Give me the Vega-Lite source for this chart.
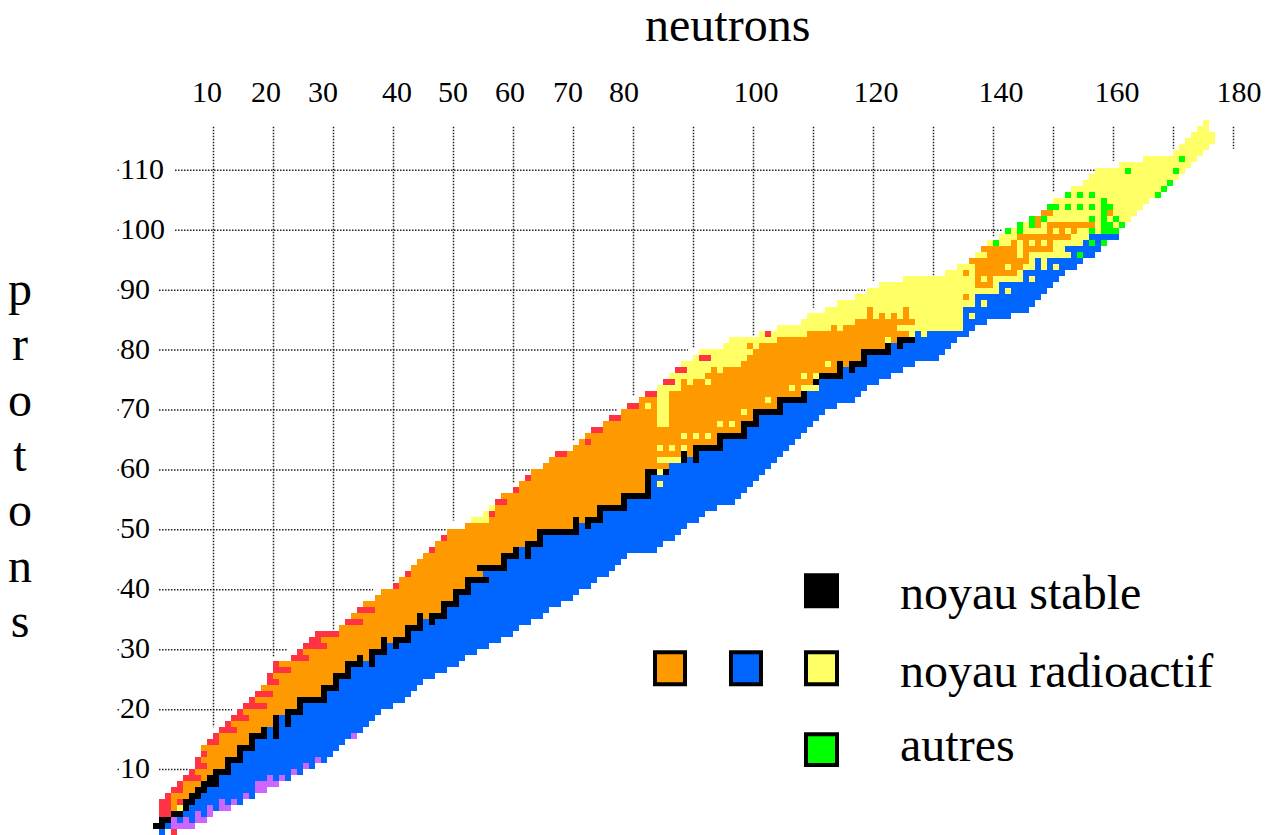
{"$schema":"https://vega.github.io/schema/vega-lite/v6.json","width":1272,"height":835,"padding":0,"autosize":{"type":"fit","contains":"padding"},"background":"white","config":{"view":{"stroke":null}},
"datasets":{
"hgrid":[{"p":10,"a":1,"b":5.83},{"p":20,"a":1,"b":13.17},{"p":30,"a":1,"b":22.5},{"p":40,"a":1,"b":36.67},{"p":50,"a":1,"b":48.83},{"p":60,"a":1,"b":62.83},{"p":70,"a":1,"b":77.33},{"p":80,"a":1,"b":89.17},{"p":90,"a":1,"b":118.67},{"p":100,"a":3.67,"b":141.67},{"p":110,"a":3.67,"b":157.83},
{"p":10,"a":-5.92,"b":-5.58},{"p":20,"a":-5.92,"b":-5.58},{"p":30,"a":-5.92,"b":-5.58},{"p":40,"a":-5.92,"b":-5.58},{"p":50,"a":-5.92,"b":-5.58},{"p":60,"a":-5.92,"b":-5.58},{"p":70,"a":-5.92,"b":-5.58},{"p":80,"a":-5.92,"b":-5.58},{"p":90,"a":-5.92,"b":-5.58},{"p":100,"a":-5.92,"b":-5.58},{"p":110,"a":-5.92,"b":-5.58}],
"vgrid":[{"n":10,"top":117.17,"e":17},{"n":20,"top":117.17,"e":28.83},{"n":30,"top":117.17,"e":33.33},{"n":40,"top":117.17,"e":41.17},{"n":50,"top":117.17,"e":51.5},{"n":60,"top":117.17,"e":57.83},{"n":70,"top":117.17,"e":64.67},{"n":80,"top":117.17,"e":72.17},{"n":90,"top":117.17,"e":80.33},{"n":100,"top":117.17,"e":82.17},{"n":110,"top":117.17,"e":87},{"n":120,"top":117.17,"e":91.5},{"n":130,"top":117.17,"e":92.17},{"n":140,"top":117.17,"e":98.83},{"n":150,"top":117.17,"e":106.17},{"n":160,"top":117.17,"e":111.5},{"n":170,"top":117.17,"e":113.5},{"n":180,"top":117.17,"e":113.5}],
"cells":[
{"p":0,"q":-1,"a":1,"b":2,"k":"B"},{"p":0,"q":-1,"a":3,"b":4,"k":"R"},
{"p":1,"q":0,"a":0,"b":2,"k":"K"},{"p":1,"q":0,"a":2,"b":3,"k":"B"},{"p":1,"q":0,"a":3,"b":7,"k":"P"},
{"p":2,"q":1,"a":1,"b":3,"k":"K"},{"p":2,"q":1,"a":3,"b":9,"k":"P"},{"p":2,"q":1,"a":4,"b":5,"k":"B"},{"p":2,"q":1,"a":6,"b":7,"k":"B"},
{"p":3,"q":2,"a":1,"b":3,"k":"R"},{"p":3,"q":2,"a":3,"b":5,"k":"K"},{"p":3,"q":2,"a":5,"b":7,"k":"B"},{"p":3,"q":2,"a":7,"b":8,"k":"P"},{"p":3,"q":2,"a":8,"b":9,"k":"B"},{"p":3,"q":2,"a":9,"b":10,"k":"P"},
{"p":4,"q":3,"a":1,"b":3,"k":"R"},{"p":4,"q":3,"a":3,"b":4,"k":"O"},{"p":4,"q":3,"a":4,"b":5,"k":"Y"},{"p":4,"q":3,"a":5,"b":6,"k":"K"},{"p":4,"q":3,"a":6,"b":9,"k":"B"},{"p":4,"q":3,"a":9,"b":10,"k":"P"},{"p":4,"q":3,"a":10,"b":11,"k":"B"},{"p":4,"q":3,"a":11,"b":13,"k":"P"},
{"p":5,"q":4,"a":1,"b":3,"k":"R"},{"p":5,"q":4,"a":3,"b":4,"k":"O"},{"p":5,"q":4,"a":4,"b":5,"k":"R"},{"p":5,"q":4,"a":5,"b":7,"k":"K"},{"p":5,"q":4,"a":7,"b":15,"k":"B"},{"p":5,"q":4,"a":11,"b":12,"k":"P"},{"p":5,"q":4,"a":13,"b":14,"k":"P"},
{"p":6,"q":5,"a":2,"b":3,"k":"R"},{"p":6,"q":5,"a":3,"b":6,"k":"O"},{"p":6,"q":5,"a":6,"b":8,"k":"K"},{"p":6,"q":5,"a":8,"b":17,"k":"B"},{"p":6,"q":5,"a":15,"b":16,"k":"P"},
{"p":7,"q":6,"a":3,"b":5,"k":"R"},{"p":7,"q":6,"a":5,"b":7,"k":"O"},{"p":7,"q":6,"a":7,"b":9,"k":"K"},{"p":7,"q":6,"a":9,"b":17,"k":"B"},{"p":7,"q":6,"a":17,"b":19,"k":"P"},
{"p":8,"q":7,"a":4,"b":5,"k":"R"},{"p":8,"q":7,"a":5,"b":8,"k":"O"},{"p":8,"q":7,"a":8,"b":11,"k":"K"},{"p":8,"q":7,"a":11,"b":17,"k":"B"},{"p":8,"q":7,"a":17,"b":21,"k":"P"},
{"p":9,"q":8,"a":5,"b":8,"k":"R"},{"p":9,"q":8,"a":8,"b":9,"k":"O"},{"p":9,"q":8,"a":9,"b":11,"k":"K"},{"p":9,"q":8,"a":11,"b":23,"k":"B"},{"p":9,"q":8,"a":19,"b":20,"k":"P"},{"p":9,"q":8,"a":21,"b":22,"k":"P"},
{"p":10,"q":9,"a":6,"b":7,"k":"R"},{"p":10,"q":9,"a":7,"b":10,"k":"O"},{"p":10,"q":9,"a":10,"b":13,"k":"K"},{"p":10,"q":9,"a":13,"b":25,"k":"B"},{"p":10,"q":9,"a":23,"b":24,"k":"P"},
{"p":11,"q":10,"a":7,"b":9,"k":"R"},{"p":11,"q":10,"a":9,"b":12,"k":"O"},{"p":11,"q":10,"a":12,"b":13,"k":"K"},{"p":11,"q":10,"a":13,"b":27,"k":"B"},{"p":11,"q":10,"a":25,"b":26,"k":"P"},
{"p":12,"q":11,"a":7,"b":8,"k":"R"},{"p":12,"q":11,"a":8,"b":12,"k":"O"},{"p":12,"q":11,"a":12,"b":15,"k":"K"},{"p":12,"q":11,"a":15,"b":29,"k":"B"},{"p":12,"q":11,"a":27,"b":28,"k":"P"},
{"p":13,"q":12,"a":8,"b":9,"k":"R"},{"p":13,"q":12,"a":9,"b":14,"k":"O"},{"p":13,"q":12,"a":14,"b":15,"k":"K"},{"p":13,"q":12,"a":15,"b":30,"k":"B"},
{"p":14,"q":13,"a":8,"b":14,"k":"O"},{"p":14,"q":13,"a":14,"b":17,"k":"K"},{"p":14,"q":13,"a":17,"b":31,"k":"B"},
{"p":15,"q":14,"a":9,"b":11,"k":"R"},{"p":15,"q":14,"a":11,"b":16,"k":"O"},{"p":15,"q":14,"a":16,"b":17,"k":"K"},{"p":15,"q":14,"a":17,"b":32,"k":"B"},
{"p":16,"q":15,"a":10,"b":11,"k":"R"},{"p":16,"q":15,"a":11,"b":16,"k":"O"},{"p":16,"q":15,"a":16,"b":19,"k":"K"},{"p":16,"q":15,"a":19,"b":33,"k":"B"},{"p":16,"q":15,"a":20,"b":21,"k":"K"},{"p":16,"q":15,"a":33,"b":34,"k":"P"},
{"p":17,"q":16,"a":11,"b":14,"k":"R"},{"p":17,"q":16,"a":14,"b":18,"k":"O"},{"p":17,"q":16,"a":18,"b":19,"k":"K"},{"p":17,"q":16,"a":19,"b":35,"k":"B"},{"p":17,"q":16,"a":20,"b":21,"k":"K"},
{"p":18,"q":17,"a":12,"b":13,"k":"R"},{"p":18,"q":17,"a":13,"b":20,"k":"O"},{"p":18,"q":17,"a":20,"b":21,"k":"K"},{"p":18,"q":17,"a":21,"b":36,"k":"B"},{"p":18,"q":17,"a":22,"b":23,"k":"K"},
{"p":19,"q":18,"a":13,"b":16,"k":"R"},{"p":19,"q":18,"a":16,"b":20,"k":"O"},{"p":19,"q":18,"a":20,"b":21,"k":"K"},{"p":19,"q":18,"a":21,"b":37,"k":"B"},{"p":19,"q":18,"a":22,"b":23,"k":"K"},
{"p":20,"q":19,"a":14,"b":15,"k":"R"},{"p":20,"q":19,"a":15,"b":22,"k":"O"},{"p":20,"q":19,"a":22,"b":25,"k":"K"},{"p":20,"q":19,"a":25,"b":38,"k":"B"},
{"p":21,"q":20,"a":15,"b":19,"k":"R"},{"p":21,"q":20,"a":19,"b":24,"k":"O"},{"p":21,"q":20,"a":24,"b":25,"k":"K"},{"p":21,"q":20,"a":25,"b":40,"k":"B"},
{"p":22,"q":21,"a":16,"b":17,"k":"R"},{"p":22,"q":21,"a":17,"b":24,"k":"O"},{"p":22,"q":21,"a":24,"b":29,"k":"K"},{"p":22,"q":21,"a":29,"b":42,"k":"B"},
{"p":23,"q":22,"a":17,"b":20,"k":"R"},{"p":23,"q":22,"a":20,"b":28,"k":"O"},{"p":23,"q":22,"a":28,"b":29,"k":"K"},{"p":23,"q":22,"a":29,"b":43,"k":"B"},
{"p":24,"q":23,"a":18,"b":28,"k":"O"},{"p":24,"q":23,"a":28,"b":31,"k":"K"},{"p":24,"q":23,"a":31,"b":44,"k":"B"},
{"p":25,"q":24,"a":19,"b":21,"k":"R"},{"p":25,"q":24,"a":21,"b":30,"k":"O"},{"p":25,"q":24,"a":30,"b":31,"k":"K"},{"p":25,"q":24,"a":31,"b":45,"k":"B"},
{"p":26,"q":25,"a":19,"b":20,"k":"R"},{"p":26,"q":25,"a":20,"b":30,"k":"O"},{"p":26,"q":25,"a":30,"b":33,"k":"K"},{"p":26,"q":25,"a":33,"b":47,"k":"B"},
{"p":27,"q":26,"a":20,"b":23,"k":"R"},{"p":27,"q":26,"a":23,"b":32,"k":"O"},{"p":27,"q":26,"a":32,"b":33,"k":"K"},{"p":27,"q":26,"a":33,"b":49,"k":"B"},
{"p":28,"q":27,"a":20,"b":21,"k":"R"},{"p":28,"q":27,"a":21,"b":32,"k":"O"},{"p":28,"q":27,"a":32,"b":35,"k":"K"},{"p":28,"q":27,"a":35,"b":51,"k":"B"},{"p":28,"q":27,"a":36,"b":37,"k":"K"},
{"p":29,"q":28,"a":23,"b":26,"k":"R"},{"p":29,"q":28,"a":26,"b":34,"k":"O"},{"p":29,"q":28,"a":34,"b":35,"k":"K"},{"p":29,"q":28,"a":35,"b":36,"k":"O"},{"p":29,"q":28,"a":36,"b":37,"k":"K"},{"p":29,"q":28,"a":37,"b":52,"k":"B"},
{"p":30,"q":29,"a":24,"b":25,"k":"R"},{"p":30,"q":29,"a":25,"b":36,"k":"O"},{"p":30,"q":29,"a":36,"b":39,"k":"K"},{"p":30,"q":29,"a":39,"b":54,"k":"B"},
{"p":31,"q":30,"a":25,"b":29,"k":"R"},{"p":31,"q":30,"a":29,"b":38,"k":"O"},{"p":31,"q":30,"a":38,"b":39,"k":"K"},{"p":31,"q":30,"a":39,"b":56,"k":"B"},{"p":31,"q":30,"a":40,"b":41,"k":"K"},
{"p":32,"q":31,"a":26,"b":28,"k":"R"},{"p":32,"q":31,"a":28,"b":38,"k":"O"},{"p":32,"q":31,"a":38,"b":39,"k":"K"},{"p":32,"q":31,"a":39,"b":40,"k":"O"},{"p":32,"q":31,"a":40,"b":43,"k":"K"},{"p":32,"q":31,"a":43,"b":58,"k":"B"},
{"p":33,"q":32,"a":27,"b":31,"k":"R"},{"p":33,"q":32,"a":31,"b":42,"k":"O"},{"p":33,"q":32,"a":42,"b":43,"k":"K"},{"p":33,"q":32,"a":43,"b":60,"k":"B"},
{"p":34,"q":33,"a":31,"b":42,"k":"O"},{"p":34,"q":33,"a":42,"b":45,"k":"K"},{"p":34,"q":33,"a":45,"b":61,"k":"B"},
{"p":35,"q":34,"a":32,"b":35,"k":"R"},{"p":35,"q":34,"a":35,"b":44,"k":"O"},{"p":35,"q":34,"a":44,"b":45,"k":"K"},{"p":35,"q":34,"a":45,"b":63,"k":"B"},{"p":35,"q":34,"a":46,"b":47,"k":"K"},
{"p":36,"q":35,"a":33,"b":44,"k":"O"},{"p":36,"q":35,"a":44,"b":45,"k":"K"},{"p":36,"q":35,"a":45,"b":46,"k":"O"},{"p":36,"q":35,"a":46,"b":49,"k":"K"},{"p":36,"q":35,"a":49,"b":65,"k":"B"},
{"p":37,"q":36,"a":34,"b":37,"k":"R"},{"p":37,"q":36,"a":37,"b":48,"k":"O"},{"p":37,"q":36,"a":48,"b":49,"k":"K"},{"p":37,"q":36,"a":49,"b":66,"k":"B"},
{"p":38,"q":37,"a":35,"b":48,"k":"O"},{"p":38,"q":37,"a":48,"b":51,"k":"K"},{"p":38,"q":37,"a":51,"b":68,"k":"B"},
{"p":39,"q":38,"a":37,"b":50,"k":"O"},{"p":39,"q":38,"a":50,"b":51,"k":"K"},{"p":39,"q":38,"a":51,"b":70,"k":"B"},
{"p":40,"q":39,"a":38,"b":50,"k":"O"},{"p":40,"q":39,"a":50,"b":53,"k":"K"},{"p":40,"q":39,"a":53,"b":71,"k":"B"},
{"p":41,"q":40,"a":40,"b":41,"k":"R"},{"p":41,"q":40,"a":41,"b":52,"k":"O"},{"p":41,"q":40,"a":52,"b":53,"k":"K"},{"p":41,"q":40,"a":53,"b":73,"k":"B"},
{"p":42,"q":41,"a":41,"b":52,"k":"O"},{"p":42,"q":41,"a":52,"b":56,"k":"K"},{"p":42,"q":41,"a":56,"b":74,"k":"B"},
{"p":43,"q":42,"a":42,"b":43,"k":"R"},{"p":43,"q":42,"a":43,"b":55,"k":"O"},{"p":43,"q":42,"a":55,"b":76,"k":"B"},
{"p":44,"q":43,"a":43,"b":54,"k":"O"},{"p":44,"q":43,"a":54,"b":59,"k":"K"},{"p":44,"q":43,"a":59,"b":77,"k":"B"},
{"p":45,"q":44,"a":44,"b":58,"k":"O"},{"p":45,"q":44,"a":58,"b":59,"k":"K"},{"p":45,"q":44,"a":59,"b":78,"k":"B"},
{"p":46,"q":45,"a":45,"b":58,"k":"O"},{"p":46,"q":45,"a":58,"b":61,"k":"K"},{"p":46,"q":45,"a":61,"b":79,"k":"B"},{"p":46,"q":45,"a":62,"b":63,"k":"K"},
{"p":47,"q":46,"a":46,"b":47,"k":"R"},{"p":47,"q":46,"a":47,"b":60,"k":"O"},{"p":47,"q":46,"a":60,"b":61,"k":"K"},{"p":47,"q":46,"a":61,"b":84,"k":"B"},{"p":47,"q":46,"a":62,"b":63,"k":"K"},
{"p":48,"q":47,"a":47,"b":62,"k":"O"},{"p":48,"q":47,"a":62,"b":65,"k":"K"},{"p":48,"q":47,"a":65,"b":85,"k":"B"},
{"p":49,"q":48,"a":48,"b":49,"k":"R"},{"p":49,"q":48,"a":49,"b":64,"k":"O"},{"p":49,"q":48,"a":64,"b":65,"k":"K"},{"p":49,"q":48,"a":65,"b":87,"k":"B"},
{"p":50,"q":49,"a":49,"b":64,"k":"O"},{"p":50,"q":49,"a":64,"b":71,"k":"K"},{"p":50,"q":49,"a":71,"b":88,"k":"B"},
{"p":51,"q":50,"a":52,"b":70,"k":"O"},{"p":51,"q":50,"a":70,"b":71,"k":"K"},{"p":51,"q":50,"a":71,"b":89,"k":"B"},{"p":51,"q":50,"a":72,"b":73,"k":"K"},
{"p":52,"q":51,"a":53,"b":56,"k":"Y"},{"p":52,"q":51,"a":56,"b":70,"k":"O"},{"p":52,"q":51,"a":70,"b":71,"k":"K"},{"p":52,"q":51,"a":71,"b":72,"k":"O"},{"p":52,"q":51,"a":72,"b":75,"k":"K"},{"p":52,"q":51,"a":75,"b":91,"k":"B"},
{"p":53,"q":52,"a":55,"b":56,"k":"Y"},{"p":53,"q":52,"a":56,"b":57,"k":"R"},{"p":53,"q":52,"a":57,"b":74,"k":"O"},{"p":53,"q":52,"a":74,"b":75,"k":"K"},{"p":53,"q":52,"a":75,"b":92,"k":"B"},
{"p":54,"q":53,"a":56,"b":57,"k":"Y"},{"p":54,"q":53,"a":57,"b":74,"k":"O"},{"p":54,"q":53,"a":74,"b":79,"k":"K"},{"p":54,"q":53,"a":79,"b":94,"k":"B"},
{"p":55,"q":54,"a":57,"b":59,"k":"R"},{"p":55,"q":54,"a":59,"b":78,"k":"O"},{"p":55,"q":54,"a":78,"b":79,"k":"K"},{"p":55,"q":54,"a":79,"b":97,"k":"B"},
{"p":56,"q":55,"a":58,"b":78,"k":"O"},{"p":56,"q":55,"a":78,"b":83,"k":"K"},{"p":56,"q":55,"a":83,"b":98,"k":"B"},
{"p":57,"q":56,"a":60,"b":61,"k":"R"},{"p":57,"q":56,"a":61,"b":82,"k":"O"},{"p":57,"q":56,"a":82,"b":83,"k":"K"},{"p":57,"q":56,"a":83,"b":99,"k":"B"},
{"p":58,"q":57,"a":61,"b":82,"k":"O"},{"p":58,"q":57,"a":82,"b":83,"k":"K"},{"p":58,"q":57,"a":83,"b":100,"k":"B"},{"p":58,"q":57,"a":84,"b":85,"k":"Y"},
{"p":59,"q":58,"a":62,"b":63,"k":"R"},{"p":59,"q":58,"a":63,"b":82,"k":"O"},{"p":59,"q":58,"a":82,"b":83,"k":"K"},{"p":59,"q":58,"a":83,"b":101,"k":"B"},
{"p":60,"q":59,"a":63,"b":82,"k":"O"},{"p":60,"q":59,"a":82,"b":86,"k":"K"},{"p":60,"q":59,"a":84,"b":85,"k":"Y"},{"p":60,"q":59,"a":86,"b":102,"k":"B"},
{"p":61,"q":60,"a":65,"b":86,"k":"O"},{"p":61,"q":60,"a":86,"b":103,"k":"B"},
{"p":62,"q":61,"a":66,"b":84,"k":"O"},{"p":62,"q":61,"a":84,"b":88,"k":"Y"},{"p":62,"q":61,"a":88,"b":89,"k":"K"},{"p":62,"q":61,"a":89,"b":104,"k":"B"},{"p":62,"q":61,"a":90,"b":91,"k":"K"},
{"p":63,"q":62,"a":67,"b":69,"k":"R"},{"p":63,"q":62,"a":69,"b":88,"k":"O"},{"p":63,"q":62,"a":88,"b":89,"k":"K"},{"p":63,"q":62,"a":89,"b":90,"k":"O"},{"p":63,"q":62,"a":90,"b":91,"k":"K"},{"p":63,"q":62,"a":91,"b":105,"k":"B"},
{"p":64,"q":63,"a":70,"b":90,"k":"O"},{"p":64,"q":63,"a":84,"b":85,"k":"Y"},{"p":64,"q":63,"a":86,"b":87,"k":"Y"},{"p":64,"q":63,"a":88,"b":89,"k":"Y"},{"p":64,"q":63,"a":90,"b":95,"k":"K"},{"p":64,"q":63,"a":95,"b":106,"k":"B"},
{"p":65,"q":64,"a":71,"b":94,"k":"O"},{"p":65,"q":64,"a":72,"b":73,"k":"R"},{"p":65,"q":64,"a":94,"b":95,"k":"K"},{"p":65,"q":64,"a":95,"b":107,"k":"B"},
{"p":66,"q":65,"a":72,"b":94,"k":"O"},{"p":66,"q":65,"a":88,"b":89,"k":"Y"},{"p":66,"q":65,"a":90,"b":91,"k":"Y"},{"p":66,"q":65,"a":92,"b":93,"k":"Y"},{"p":66,"q":65,"a":94,"b":99,"k":"K"},{"p":66,"q":65,"a":99,"b":108,"k":"B"},
{"p":67,"q":66,"a":73,"b":75,"k":"R"},{"p":67,"q":66,"a":75,"b":98,"k":"O"},{"p":67,"q":66,"a":98,"b":99,"k":"K"},{"p":67,"q":66,"a":99,"b":109,"k":"B"},
{"p":68,"q":67,"a":75,"b":98,"k":"O"},{"p":68,"q":67,"a":84,"b":86,"k":"Y"},{"p":68,"q":67,"a":94,"b":95,"k":"Y"},{"p":68,"q":67,"a":96,"b":97,"k":"Y"},{"p":68,"q":67,"a":98,"b":101,"k":"K"},{"p":68,"q":67,"a":101,"b":110,"k":"B"},
{"p":69,"q":68,"a":76,"b":78,"k":"R"},{"p":69,"q":68,"a":78,"b":100,"k":"O"},{"p":69,"q":68,"a":84,"b":86,"k":"Y"},{"p":69,"q":68,"a":100,"b":101,"k":"K"},{"p":69,"q":68,"a":101,"b":111,"k":"B"},
{"p":70,"q":69,"a":78,"b":100,"k":"O"},{"p":70,"q":69,"a":84,"b":86,"k":"Y"},{"p":70,"q":69,"a":98,"b":99,"k":"Y"},{"p":70,"q":69,"a":100,"b":105,"k":"K"},{"p":70,"q":69,"a":105,"b":112,"k":"B"},
{"p":71,"q":70,"a":79,"b":81,"k":"R"},{"p":71,"q":70,"a":81,"b":104,"k":"O"},{"p":71,"q":70,"a":82,"b":83,"k":"Y"},{"p":71,"q":70,"a":84,"b":86,"k":"Y"},{"p":71,"q":70,"a":104,"b":105,"k":"K"},{"p":71,"q":70,"a":105,"b":114,"k":"B"},
{"p":72,"q":71,"a":81,"b":104,"k":"O"},{"p":72,"q":71,"a":84,"b":86,"k":"Y"},{"p":72,"q":71,"a":102,"b":103,"k":"Y"},{"p":72,"q":71,"a":104,"b":109,"k":"K"},{"p":72,"q":71,"a":109,"b":117,"k":"B"},
{"p":73,"q":72,"a":82,"b":84,"k":"R"},{"p":73,"q":72,"a":84,"b":86,"k":"Y"},{"p":73,"q":72,"a":86,"b":108,"k":"O"},{"p":73,"q":72,"a":108,"b":109,"k":"K"},{"p":73,"q":72,"a":109,"b":118,"k":"B"},
{"p":74,"q":73,"a":84,"b":88,"k":"Y"},{"p":74,"q":73,"a":88,"b":108,"k":"O"},{"p":74,"q":73,"a":106,"b":107,"k":"Y"},{"p":74,"q":73,"a":108,"b":111,"k":"Y"},{"p":74,"q":73,"a":111,"b":119,"k":"B"},
{"p":75,"q":74,"a":85,"b":87,"k":"R"},{"p":75,"q":74,"a":87,"b":88,"k":"Y"},{"p":75,"q":74,"a":88,"b":110,"k":"O"},{"p":75,"q":74,"a":89,"b":90,"k":"Y"},{"p":75,"q":74,"a":92,"b":93,"k":"Y"},{"p":75,"q":74,"a":110,"b":111,"k":"K"},{"p":75,"q":74,"a":111,"b":121,"k":"B"},
{"p":76,"q":75,"a":86,"b":92,"k":"Y"},{"p":76,"q":75,"a":92,"b":111,"k":"O"},{"p":76,"q":75,"a":108,"b":109,"k":"Y"},{"p":76,"q":75,"a":110,"b":111,"k":"Y"},{"p":76,"q":75,"a":111,"b":115,"k":"K"},{"p":76,"q":75,"a":115,"b":123,"k":"B"},
{"p":77,"q":76,"a":87,"b":89,"k":"R"},{"p":77,"q":76,"a":89,"b":93,"k":"Y"},{"p":77,"q":76,"a":93,"b":114,"k":"O"},{"p":77,"q":76,"a":94,"b":95,"k":"Y"},{"p":77,"q":76,"a":114,"b":115,"k":"K"},{"p":77,"q":76,"a":115,"b":125,"k":"B"},{"p":77,"q":76,"a":116,"b":117,"k":"K"},
{"p":78,"q":77,"a":88,"b":98,"k":"Y"},{"p":78,"q":77,"a":98,"b":114,"k":"O"},{"p":78,"q":77,"a":112,"b":113,"k":"Y"},{"p":78,"q":77,"a":114,"b":115,"k":"K"},{"p":78,"q":77,"a":115,"b":116,"k":"O"},{"p":78,"q":77,"a":116,"b":119,"k":"K"},{"p":78,"q":77,"a":119,"b":127,"k":"B"},
{"p":79,"q":78,"a":90,"b":99,"k":"Y"},{"p":79,"q":78,"a":91,"b":93,"k":"R"},{"p":79,"q":78,"a":99,"b":118,"k":"O"},{"p":79,"q":78,"a":118,"b":119,"k":"K"},{"p":79,"q":78,"a":119,"b":131,"k":"B"},
{"p":80,"q":79,"a":91,"b":100,"k":"Y"},{"p":80,"q":79,"a":100,"b":118,"k":"O"},{"p":80,"q":79,"a":118,"b":123,"k":"K"},{"p":80,"q":79,"a":123,"b":132,"k":"B"},
{"p":81,"q":80,"a":95,"b":101,"k":"Y"},{"p":81,"q":80,"a":99,"b":100,"k":"O"},{"p":81,"q":80,"a":101,"b":122,"k":"O"},{"p":81,"q":80,"a":122,"b":123,"k":"K"},{"p":81,"q":80,"a":123,"b":133,"k":"B"},{"p":81,"q":80,"a":124,"b":125,"k":"K"},
{"p":82,"q":81,"a":96,"b":104,"k":"Y"},{"p":82,"q":81,"a":104,"b":124,"k":"O"},{"p":82,"q":81,"a":122,"b":123,"k":"Y"},{"p":82,"q":81,"a":124,"b":127,"k":"K"},{"p":82,"q":81,"a":127,"b":134,"k":"B"},
{"p":83,"q":82,"a":101,"b":109,"k":"Y"},{"p":83,"q":82,"a":102,"b":103,"k":"R"},{"p":83,"q":82,"a":109,"b":126,"k":"O"},{"p":83,"q":82,"a":126,"b":127,"k":"Y"},{"p":83,"q":82,"a":127,"b":136,"k":"B"},{"p":83,"q":82,"a":128,"b":129,"k":"Y"},
{"p":84,"q":83,"a":104,"b":135,"k":"Y"},{"p":84,"q":83,"a":113,"b":114,"k":"O"},{"p":84,"q":83,"a":115,"b":124,"k":"O"},{"p":84,"q":83,"a":135,"b":137,"k":"B"},
{"p":85,"q":84,"a":108,"b":135,"k":"Y"},{"p":85,"q":84,"a":117,"b":127,"k":"O"},{"p":85,"q":84,"a":135,"b":139,"k":"B"},
{"p":86,"q":85,"a":109,"b":135,"k":"Y"},{"p":86,"q":85,"a":119,"b":120,"k":"O"},{"p":86,"q":85,"a":121,"b":122,"k":"O"},{"p":86,"q":85,"a":123,"b":124,"k":"O"},{"p":86,"q":85,"a":125,"b":126,"k":"O"},{"p":86,"q":85,"a":135,"b":143,"k":"B"},{"p":86,"q":85,"a":136,"b":137,"k":"Y"},
{"p":87,"q":86,"a":112,"b":135,"k":"Y"},{"p":87,"q":86,"a":119,"b":120,"k":"O"},{"p":87,"q":86,"a":125,"b":126,"k":"O"},{"p":87,"q":86,"a":135,"b":146,"k":"B"},
{"p":88,"q":87,"a":114,"b":137,"k":"Y"},{"p":88,"q":87,"a":137,"b":147,"k":"B"},{"p":88,"q":87,"a":138,"b":139,"k":"Y"},
{"p":89,"q":88,"a":117,"b":137,"k":"Y"},{"p":89,"q":88,"a":135,"b":136,"k":"O"},{"p":89,"q":88,"a":137,"b":148,"k":"B"},
{"p":90,"q":89,"a":119,"b":141,"k":"Y"},{"p":90,"q":89,"a":141,"b":149,"k":"B"},{"p":90,"q":89,"a":142,"b":143,"k":"Y"},
{"p":91,"q":90,"a":121,"b":141,"k":"Y"},{"p":91,"q":90,"a":137,"b":140,"k":"O"},{"p":91,"q":90,"a":141,"b":150,"k":"B"},
{"p":92,"q":91,"a":125,"b":145,"k":"Y"},{"p":92,"q":91,"a":137,"b":138,"k":"O"},{"p":92,"q":91,"a":139,"b":140,"k":"O"},{"p":92,"q":91,"a":145,"b":151,"k":"B"},{"p":92,"q":91,"a":146,"b":147,"k":"Y"},
{"p":93,"q":92,"a":132,"b":145,"k":"Y"},{"p":93,"q":92,"a":135,"b":136,"k":"O"},{"p":93,"q":92,"a":137,"b":144,"k":"O"},{"p":93,"q":92,"a":145,"b":152,"k":"B"},
{"p":94,"q":93,"a":134,"b":147,"k":"Y"},{"p":94,"q":93,"a":137,"b":142,"k":"O"},{"p":94,"q":93,"a":143,"b":145,"k":"O"},{"p":94,"q":93,"a":147,"b":154,"k":"B"},{"p":94,"q":93,"a":148,"b":149,"k":"Y"},{"p":94,"q":93,"a":150,"b":151,"k":"Y"},
{"p":95,"q":94,"a":136,"b":146,"k":"O"},{"p":95,"q":94,"a":146,"b":147,"k":"Y"},{"p":95,"q":94,"a":147,"b":155,"k":"B"},{"p":95,"q":94,"a":148,"b":149,"k":"Y"},
{"p":96,"q":95,"a":137,"b":153,"k":"Y"},{"p":96,"q":95,"a":139,"b":144,"k":"O"},{"p":96,"q":95,"a":145,"b":146,"k":"O"},{"p":96,"q":95,"a":153,"b":157,"k":"B"},{"p":96,"q":95,"a":154,"b":155,"k":"G"},
{"p":97,"q":96,"a":138,"b":152,"k":"Y"},{"p":97,"q":96,"a":138,"b":144,"k":"O"},{"p":97,"q":96,"a":145,"b":150,"k":"O"},{"p":97,"q":96,"a":152,"b":158,"k":"B"},
{"p":98,"q":97,"a":139,"b":155,"k":"Y"},{"p":98,"q":97,"a":140,"b":141,"k":"G"},{"p":98,"q":97,"a":143,"b":144,"k":"O"},{"p":98,"q":97,"a":145,"b":146,"k":"O"},{"p":98,"q":97,"a":147,"b":148,"k":"O"},{"p":98,"q":97,"a":149,"b":150,"k":"O"},{"p":98,"q":97,"a":155,"b":158,"k":"B"},{"p":98,"q":97,"a":156,"b":157,"k":"G"},{"p":98,"q":97,"a":158,"b":159,"k":"G"},
{"p":99,"q":98,"a":141,"b":156,"k":"Y"},{"p":99,"q":98,"a":144,"b":153,"k":"O"},{"p":99,"q":98,"a":156,"b":161,"k":"B"},
{"p":100,"q":99,"a":142,"b":158,"k":"Y"},{"p":100,"q":99,"a":142,"b":143,"k":"G"},{"p":100,"q":99,"a":144,"b":145,"k":"G"},{"p":100,"q":99,"a":149,"b":150,"k":"O"},{"p":100,"q":99,"a":151,"b":152,"k":"O"},{"p":100,"q":99,"a":153,"b":154,"k":"O"},{"p":100,"q":99,"a":156,"b":157,"k":"G"},{"p":100,"q":99,"a":158,"b":161,"k":"G"},
{"p":101,"q":100,"a":144,"b":145,"k":"G"},{"p":101,"q":100,"a":145,"b":146,"k":"Y"},{"p":101,"q":100,"a":146,"b":147,"k":"G"},{"p":101,"q":100,"a":147,"b":148,"k":"O"},{"p":101,"q":100,"a":148,"b":149,"k":"Y"},{"p":101,"q":100,"a":149,"b":157,"k":"O"},{"p":101,"q":100,"a":157,"b":158,"k":"Y"},{"p":101,"q":100,"a":158,"b":160,"k":"G"},{"p":101,"q":100,"a":160,"b":161,"k":"Y"},{"p":101,"q":100,"a":161,"b":162,"k":"G"},
{"p":102,"q":101,"a":146,"b":147,"k":"G"},{"p":102,"q":101,"a":147,"b":148,"k":"O"},{"p":102,"q":101,"a":148,"b":149,"k":"G"},{"p":102,"q":101,"a":149,"b":163,"k":"Y"},{"p":102,"q":101,"a":156,"b":157,"k":"G"},{"p":102,"q":101,"a":158,"b":159,"k":"G"},{"p":102,"q":101,"a":160,"b":161,"k":"G"},
{"p":103,"q":102,"a":148,"b":150,"k":"O"},{"p":103,"q":102,"a":150,"b":164,"k":"Y"},{"p":103,"q":102,"a":158,"b":159,"k":"G"},{"p":103,"q":102,"a":159,"b":160,"k":"O"},
{"p":104,"q":103,"a":149,"b":165,"k":"Y"},{"p":104,"q":103,"a":149,"b":151,"k":"G"},{"p":104,"q":103,"a":152,"b":153,"k":"G"},{"p":104,"q":103,"a":154,"b":155,"k":"G"},{"p":104,"q":103,"a":156,"b":157,"k":"G"},{"p":104,"q":103,"a":158,"b":160,"k":"G"},
{"p":105,"q":104,"a":150,"b":166,"k":"Y"},{"p":105,"q":104,"a":158,"b":159,"k":"G"},
{"p":106,"q":105,"a":152,"b":168,"k":"Y"},{"p":106,"q":105,"a":152,"b":153,"k":"G"},{"p":106,"q":105,"a":154,"b":155,"k":"G"},{"p":106,"q":105,"a":156,"b":157,"k":"G"},{"p":106,"q":105,"a":167,"b":168,"k":"G"},
{"p":107,"q":106,"a":153,"b":169,"k":"Y"},{"p":107,"q":106,"a":168,"b":169,"k":"G"},
{"p":108,"q":107,"a":155,"b":170,"k":"Y"},{"p":108,"q":107,"a":169,"b":170,"k":"G"},
{"p":109,"q":108,"a":156,"b":171,"k":"Y"},
{"p":110,"q":109,"a":157,"b":172,"k":"Y"},{"p":110,"q":109,"a":162,"b":163,"k":"G"},{"p":110,"q":109,"a":170,"b":171,"k":"G"},
{"p":111,"q":110,"a":161,"b":173,"k":"Y"},
{"p":112,"q":111,"a":165,"b":174,"k":"Y"},{"p":112,"q":111,"a":171,"b":172,"k":"G"},
{"p":113,"q":112,"a":170,"b":175,"k":"Y"},
{"p":114,"q":113,"a":171,"b":176,"k":"Y"},
{"p":115,"q":114,"a":172,"b":177,"k":"Y"},
{"p":116,"q":115,"a":173,"b":177,"k":"Y"},
{"p":117,"q":116,"a":174,"b":176,"k":"Y"},
{"p":118,"q":117,"a":175,"b":176,"k":"Y"}
],
"legendBoxes":[{"a":108.83,"b":114,"t":42.33,"u":37.17,"k":"K"},{"a":83.67,"b":88.67,"t":29.5,"u":24.17,"k":"O"},{"a":96.33,"b":101.33,"t":29.5,"u":24.17,"k":"B"},{"a":108.83,"b":114,"t":29.5,"u":24.17,"k":"Y"},{"a":108.83,"b":114,"t":15.83,"u":10.67,"k":"G"}],
"topLabels":[{"t":"10","x":9,"y":121.33},{"t":"20","x":18.83,"y":121.33},{"t":"30","x":28.33,"y":121.33},{"t":"40","x":40.67,"y":121.33},{"t":"50","x":50,"y":121.33},{"t":"60","x":59.5,"y":121.33},{"t":"70","x":69.17,"y":121.33},{"t":"80","x":78.5,"y":121.33},{"t":"100","x":100.5,"y":121.33},{"t":"120","x":120.5,"y":121.33},{"t":"140","x":141.33,"y":121.33},{"t":"160","x":160.67,"y":121.33},{"t":"180","x":181,"y":121.33}],
"leftLabels":[{"t":"10","x":-5.5,"y":8.5},{"t":"20","x":-5.5,"y":18.5},{"t":"30","x":-5.5,"y":28.5},{"t":"40","x":-5.5,"y":38.5},{"t":"50","x":-5.5,"y":48.5},{"t":"60","x":-5.5,"y":58.5},{"t":"70","x":-5.5,"y":68.5},{"t":"80","x":-5.5,"y":78.5},{"t":"90","x":-5.5,"y":88.5},{"t":"100","x":-5.5,"y":98.5},{"t":"110","x":-5.5,"y":108.5}],
"bigLeft":[{"t":"neutrons","x":82,"y":131.5},{"t":"noyau stable","x":124.5,"y":36.67},{"t":"noyau radioactif","x":124.5,"y":23.67},{"t":"autres","x":124.5,"y":11.33}],
"bigCenter":[{"t":"p","x":-22.17,"y":87.5},{"t":"r","x":-22.17,"y":78.25},{"t":"o","x":-22.17,"y":69},{"t":"t","x":-22.17,"y":59.75},{"t":"o","x":-22.17,"y":50.5},{"t":"n","x":-22.17,"y":41.25},{"t":"s","x":-22.17,"y":32}]
},
"resolve":{"scale":{"y":"independent"}},
"layer":[
{"data":{"name":"hgrid"},"mark":{"type":"rule","stroke":"#222222","strokeWidth":1.5,"strokeDash":[1.5,1.5],"yOffset":0.5},"encoding":{"x":{"field":"a","type":"quantitative","scale":{"domain":[-25.5,186.5],"nice":false,"zero":false},"axis":null},"x2":{"field":"b"},"y":{"field":"p","type":"quantitative","scale":{"domain":[-0.83333,138.33333],"nice":false,"zero":false},"axis":null}}},
{"data":{"name":"vgrid"},"mark":{"type":"rule","stroke":"#222222","strokeWidth":1.5,"strokeDash":[1.5,1.5],"xOffset":0.5},"encoding":{"x":{"field":"n","type":"quantitative","scale":{"domain":[-25.5,186.5],"nice":false,"zero":false},"axis":null},"y":{"field":"top","type":"quantitative","scale":{"domain":[-0.83333,138.33333],"nice":false,"zero":false},"axis":null},"y2":{"field":"e"}}},
{"data":{"name":"cells"},"mark":{"type":"rect"},"encoding":{"x":{"field":"a","type":"quantitative","scale":{"domain":[-25.5,186.5],"nice":false,"zero":false},"axis":null},"x2":{"field":"b"},"y":{"field":"p","type":"quantitative","scale":{"domain":[-0.8315,138.034],"nice":false,"zero":false,"round":true},"axis":null},"y2":{"field":"q"},"color":{"field":"k","type":"nominal","legend":null,"scale":{"domain":["K","O","B","Y","G","R","P"],"range":["#000000","#FF9900","#0066FF","#FFFF66","#00FF00","#FF3344","#CC66FF"]}}}},
{"data":{"name":"legendBoxes"},"mark":{"type":"rect","stroke":"#000000","strokeWidth":4},"encoding":{"x":{"field":"a","type":"quantitative","scale":{"domain":[-25.5,186.5],"nice":false,"zero":false},"axis":null},"x2":{"field":"b"},"y":{"field":"t","type":"quantitative","scale":{"domain":[-0.83333,138.33333],"nice":false,"zero":false},"axis":null},"y2":{"field":"u"},"color":{"field":"k","type":"nominal","legend":null,"scale":{"domain":["K","O","B","Y","G","R","P"],"range":["#000000","#FF9900","#0066FF","#FFFF66","#00FF00","#FF3344","#CC66FF"]}}}},
{"data":{"name":"topLabels"},"mark":{"type":"text","font":"Liberation Serif","fontSize":30,"align":"center","baseline":"alphabetic","color":"#000000"},"encoding":{"x":{"field":"x","type":"quantitative","scale":{"domain":[-25.5,186.5],"nice":false,"zero":false},"axis":null},"y":{"field":"y","type":"quantitative","scale":{"domain":[-0.83333,138.33333],"nice":false,"zero":false},"axis":null},"text":{"field":"t"}}},
{"data":{"name":"leftLabels"},"mark":{"type":"text","font":"Liberation Serif","fontSize":30,"align":"left","baseline":"alphabetic","color":"#000000"},"encoding":{"x":{"field":"x","type":"quantitative","scale":{"domain":[-25.5,186.5],"nice":false,"zero":false},"axis":null},"y":{"field":"y","type":"quantitative","scale":{"domain":[-0.83333,138.33333],"nice":false,"zero":false},"axis":null},"text":{"field":"t"}}},
{"data":{"name":"bigLeft"},"mark":{"type":"text","font":"Liberation Serif","fontSize":48,"align":"left","baseline":"alphabetic","color":"#000000"},"encoding":{"x":{"field":"x","type":"quantitative","scale":{"domain":[-25.5,186.5],"nice":false,"zero":false},"axis":null},"y":{"field":"y","type":"quantitative","scale":{"domain":[-0.83333,138.33333],"nice":false,"zero":false},"axis":null},"text":{"field":"t"}}},
{"data":{"name":"bigCenter"},"mark":{"type":"text","font":"Liberation Serif","fontSize":48,"align":"center","baseline":"alphabetic","color":"#000000"},"encoding":{"x":{"field":"x","type":"quantitative","scale":{"domain":[-25.5,186.5],"nice":false,"zero":false},"axis":null},"y":{"field":"y","type":"quantitative","scale":{"domain":[-0.83333,138.33333],"nice":false,"zero":false},"axis":null},"text":{"field":"t"}}}
]}
